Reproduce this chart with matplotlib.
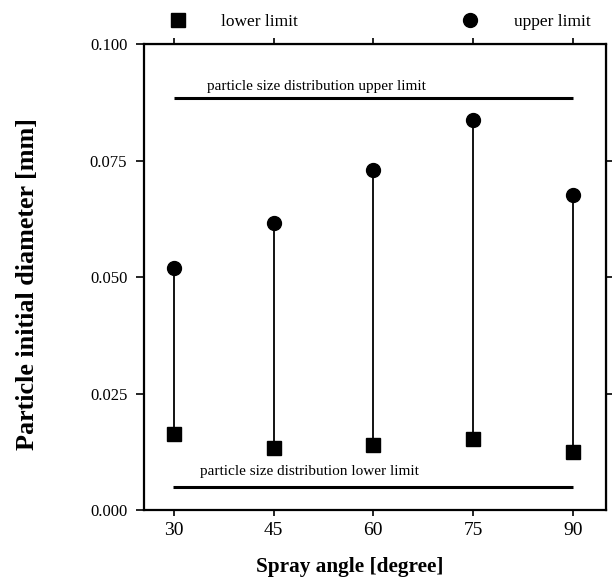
import matplotlib.pyplot as plt
import numpy as np

# data
spray_angle = [30, 45, 60, 75, 90]
lower_limit = [0.0164, 0.0132, 0.0139, 0.0152, 0.0125]
upper_limit = [0.0519, 0.0616, 0.0729, 0.0837, 0.0675]
psd_upper = 0.0884
psd_lower = 0.0050
y_ticks = [0.000, 0.025, 0.050, 0.075, 0.100]


def setup_fonts():
    plt.rcParams.update({
        "font.family": "serif",
        "font.serif": ["Liberation Serif", "DejaVu Serif"],
        "font.size": 10,
    })


def plot_limits(ax):
    ax.vlines(spray_angle, lower_limit, upper_limit, color="black", lw=1.3, zorder=2)
    ax.plot(spray_angle, lower_limit, "s", color="black", ms=9.5, ls="none",
            label="lower limit", zorder=3)
    ax.plot(spray_angle, upper_limit, "o", color="black", ms=10, ls="none",
            label="upper limit", zorder=3)

    ax.hlines(psd_upper, spray_angle[0], spray_angle[-1], color="black", lw=2.2)
    ax.hlines(psd_lower, spray_angle[0] - 0.2, spray_angle[-1], color="black", lw=2.2)
    ax.text(51.4, 0.0908, "particle size distribution upper limit",
            ha="center", va="center", fontsize=11)
    ax.text(50.4, 0.0082, "particle size distribution lower limit",
            ha="center", va="center", fontsize=11)

    ax.set_xlim(25.5, 95)
    ax.set_ylim(0, 0.100)
    ax.set_xticks(spray_angle)
    ax.set_yticks(y_ticks)
    ax.set_yticklabels(["%.3f" % v for v in y_ticks])

    ax.tick_params(axis="y", direction="out", length=6, width=1.2, labelsize=12, pad=6)
    ax.tick_params(axis="x", direction="out", length=4, width=1.2, labelsize=14, pad=5)

    # short ticks on top and right too
    top = ax.secondary_xaxis("top")
    top.set_xticks(spray_angle)
    top.tick_params(direction="out", length=4, width=1.2, labeltop=False)
    right = ax.secondary_yaxis("right")
    right.set_yticks(y_ticks[1:-1])
    right.tick_params(direction="out", length=4, width=1.2, labelright=False)

    for s in ax.spines.values():
        s.set_linewidth(1.6)

    ax.set_xlabel("Spray angle [degree]", fontsize=15.3, fontweight="bold", va="center")
    ax.xaxis.set_label_coords(0.446, -0.122)
    ax.set_ylabel("Particle initial diameter [mm]", fontsize=18.8, fontweight="bold",
                  va="center")
    ax.yaxis.set_label_coords(-0.252, 0.485)

    ax.legend(loc="center left", bbox_to_anchor=(0.055, 1.047), ncol=2, frameon=False,
              borderpad=0, borderaxespad=0, handlelength=1, handletextpad=2.0,
              columnspacing=9.4, fontsize=12.5)


if __name__ == '__main__':
    setup_fonts()
    fig = plt.figure(figsize=(6.12, 5.8), dpi=100)
    ax = fig.add_axes([0.2353, 0.1207, 0.7549, 0.8034])
    plot_limits(ax)
    fig.savefig("out.png", dpi=100)
